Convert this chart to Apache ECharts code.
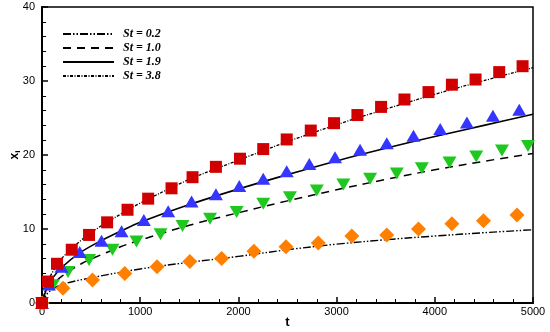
<!DOCTYPE html>
<html>
<head>
<meta charset="utf-8">
<script src="https://cdn.jsdelivr.net/npm/echarts@6/dist/echarts.min.js"></script>
<style>html,body{margin:0;padding:0;background:#fff}#c{width:550px;height:332px}</style>
</head>
<body>
<div id="c"></div>
<script>
// ---- data ----
const seriesNames = ['St = 0.2', 'St = 1.0', 'St = 1.9', 'St = 3.8'];
const xTicks = [0, 1000, 2000, 3000, 4000, 5000];
const yTicks = [0, 10, 20, 30, 40];

// model curves (t, x_i)
const lineSt02 = [[0,0],[50,1.2],[100,1.8],[200,2.5],[500,3.4],[1000,4.6],[1500,5.5],[2000,6.3],[2500,7.2],[3000,7.95],[3500,8.55],[4000,9.05],[4500,9.5],[5000,9.9]];
const lineSt10 = [[0,0],[50,1.6],[100,2.4],[200,3.6],[400,5.3],[600,6.5],[800,7.6],[1000,8.5],[1500,10.5],[2000,12.2],[2500,13.8],[3000,15.3],[3500,16.7],[4000,18.0],[4500,19.15],[5000,20.2]];
const lineSt19 = [[0,0],[50,2.0],[100,3.2],[200,4.8],[400,6.9],[600,8.4],[800,9.7],[1000,10.9],[1500,13.3],[2000,15.4],[2500,17.35],[3000,19.2],[3500,20.9],[4000,22.5],[4500,24.0],[5000,25.5]];
const lineSt38 = [[0,0],[50,2.5],[100,4.0],[200,6.0],[400,8.5],[600,10.4],[800,12.0],[1000,13.5],[1500,16.7],[2000,19.3],[2500,21.8],[3000,24.1],[3500,26.2],[4000,28.2],[4500,30.05],[5000,31.8]];

// symbols (t, x_i)
const ptsSt02 = [[0,0],[214,2.0],[514,3.1],[843,4.0],[1172,4.9],[1506,5.6],[1829,6.0],[2158,7.0],[2485,7.6],[2814,8.1],[3155,9.05],[3511,9.2],[3834,10.0],[4174,10.7],[4496,11.1],[4837,11.9]];
const ptsSt10 = [[0,0],[112,2.4],[265,4.2],[479,5.8],[718,7.2],[962,8.3],[1207,9.3],[1431,10.4],[1711,11.4],[1982,12.3],[2253,13.4],[2525,14.3],[2798,15.2],[3069,16.0],[3341,16.8],[3613,17.5],[3868,18.2],[4150,19.0],[4422,19.8],[4684,20.6],[4949,21.2]];
const ptsSt19 = [[0,0],[71,2.5],[198,4.9],[384,6.9],[606,8.4],[810,9.7],[1037,11.2],[1285,12.4],[1523,13.7],[1771,14.7],[2009,15.8],[2253,16.8],[2492,17.8],[2722,18.8],[2984,19.7],[3239,20.7],[3511,21.6],[3783,22.6],[4055,23.5],[4327,24.4],[4592,25.3],[4860,26.1]];
const ptsSt38 = [[0,0],[61,2.9],[153,5.3],[303,7.2],[479,9.2],[663,10.9],[871,12.6],[1081,14.1],[1319,15.5],[1533,17.0],[1771,18.4],[2016,19.5],[2253,20.8],[2492,22.1],[2737,23.3],[2974,24.3],[3212,25.4],[3453,26.5],[3691,27.5],[3936,28.5],[4174,29.5],[4415,30.2],[4656,31.2],[4894,32.0]];

// ---- chart ----
const chart = echarts.init(document.getElementById('c'), null, {renderer: 'canvas'});
const lineBase = {type: 'line', symbol: 'none', showSymbol: false, smooth: 0.35, z: 2, silent: true};
const scatBase = {type: 'scatter', z: 3, silent: true};
const option = {
  animation: false,
  backgroundColor: '#fff',
  grid: {left: 42, right: 17, top: 7, bottom: 29, containLabel: false, outerBoundsMode: 'none',
    show: true, borderColor: '#000', borderWidth: 1.5, backgroundColor: 'transparent'},
  legend: {
    data: seriesNames,
    orient: 'vertical', left: 62, top: 27, padding: 0,
    itemWidth: 51, itemHeight: 10, itemGap: 0,
    itemStyle: {opacity: 0},
    textStyle: {fontFamily: 'Liberation Serif', fontStyle: 'italic', fontWeight: 'bold', fontSize: 12, lineHeight: 14, height: 14, color: '#000', padding: [0,0,0,4]}
  },
  xAxis: {
    type: 'value', min: 0, max: 5000, interval: 1000,
    name: 't', nameLocation: 'middle', nameGap: 13, nameMoveOverlap: false,
    nameTextStyle: {fontFamily: 'Liberation Sans', fontWeight: 'bold', fontSize: 13, color: '#000'},
    axisLine: {show: true, lineStyle: {color: '#000', width: 2}},
    axisTick: {show: true, inside: true, length: 6, lineStyle: {color: '#000', width: 1.5}},
    minorTick: {show: true, splitNumber: 5, length: 4, lineStyle: {color: '#000', width: 1}},
    axisLabel: {margin: 3, fontFamily: 'Liberation Sans', fontSize: 11, color: '#000',
      formatter: v => xTicks.includes(v) ? String(v) : ''},
    splitLine: {show: false}
  },
  yAxis: {
    type: 'value', min: 0, max: 40, interval: 10,
    name: '{a|x}{b|i}', nameLocation: 'middle', nameGap: 20, nameRotate: 90, nameMoveOverlap: false,
    nameTextStyle: {rich: {a: {fontFamily: 'Liberation Sans', fontWeight: 'bold', fontSize: 12, color: '#000'}, b: {fontFamily: 'Liberation Sans', fontWeight: 'bold', fontSize: 8, color: '#000', padding: [6,0,0,0]}}},
    axisLine: {show: true, lineStyle: {color: '#000', width: 2}},
    axisTick: {show: true, inside: true, length: 6, lineStyle: {color: '#000', width: 1.5}},
    minorTick: {show: true, splitNumber: 5, length: 4, lineStyle: {color: '#000', width: 1}},
    axisLabel: {margin: 7, fontFamily: 'Liberation Sans', fontSize: 11, color: '#000',
      formatter: v => yTicks.includes(v) ? String(v) : ''},
    splitLine: {show: false}
  },
  series: [
    Object.assign({}, lineBase, {name: seriesNames[0], data: lineSt02, color: '#000',
      lineStyle: {color: '#000', width: 1.4, type: [8, 2, 1.5, 2, 1.5, 2]}}),
    Object.assign({}, lineBase, {name: seriesNames[1], data: lineSt10, color: '#000',
      lineStyle: {color: '#000', width: 1.5, type: [8, 6]}}),
    Object.assign({}, lineBase, {name: seriesNames[2], data: lineSt19, color: '#000',
      lineStyle: {color: '#000', width: 1.6, type: 'solid'}}),
    Object.assign({}, lineBase, {name: seriesNames[3], data: lineSt38, color: '#000',
      lineStyle: {color: '#000', width: 1.3, type: [3, 1.5, 1, 1.5]}}),
    Object.assign({}, scatBase, {data: ptsSt02, symbol: 'diamond', symbolSize: 15, itemStyle: {color: '#ff8000', opacity: 1}}),
    Object.assign({}, scatBase, {data: ptsSt10, symbol: 'triangle', symbolRotate: 180, symbolSize: [14, 12], itemStyle: {color: '#1ec81e', opacity: 1}}),
    Object.assign({}, scatBase, {data: ptsSt19, symbol: 'triangle', symbolSize: [14, 12], itemStyle: {color: '#3535ff', opacity: 1}}),
    Object.assign({}, scatBase, {data: ptsSt38, symbol: 'rect', symbolSize: 12, itemStyle: {color: '#d10000', opacity: 1}})
  ]
};
chart.setOption(option);
</script>
</body>
</html>
